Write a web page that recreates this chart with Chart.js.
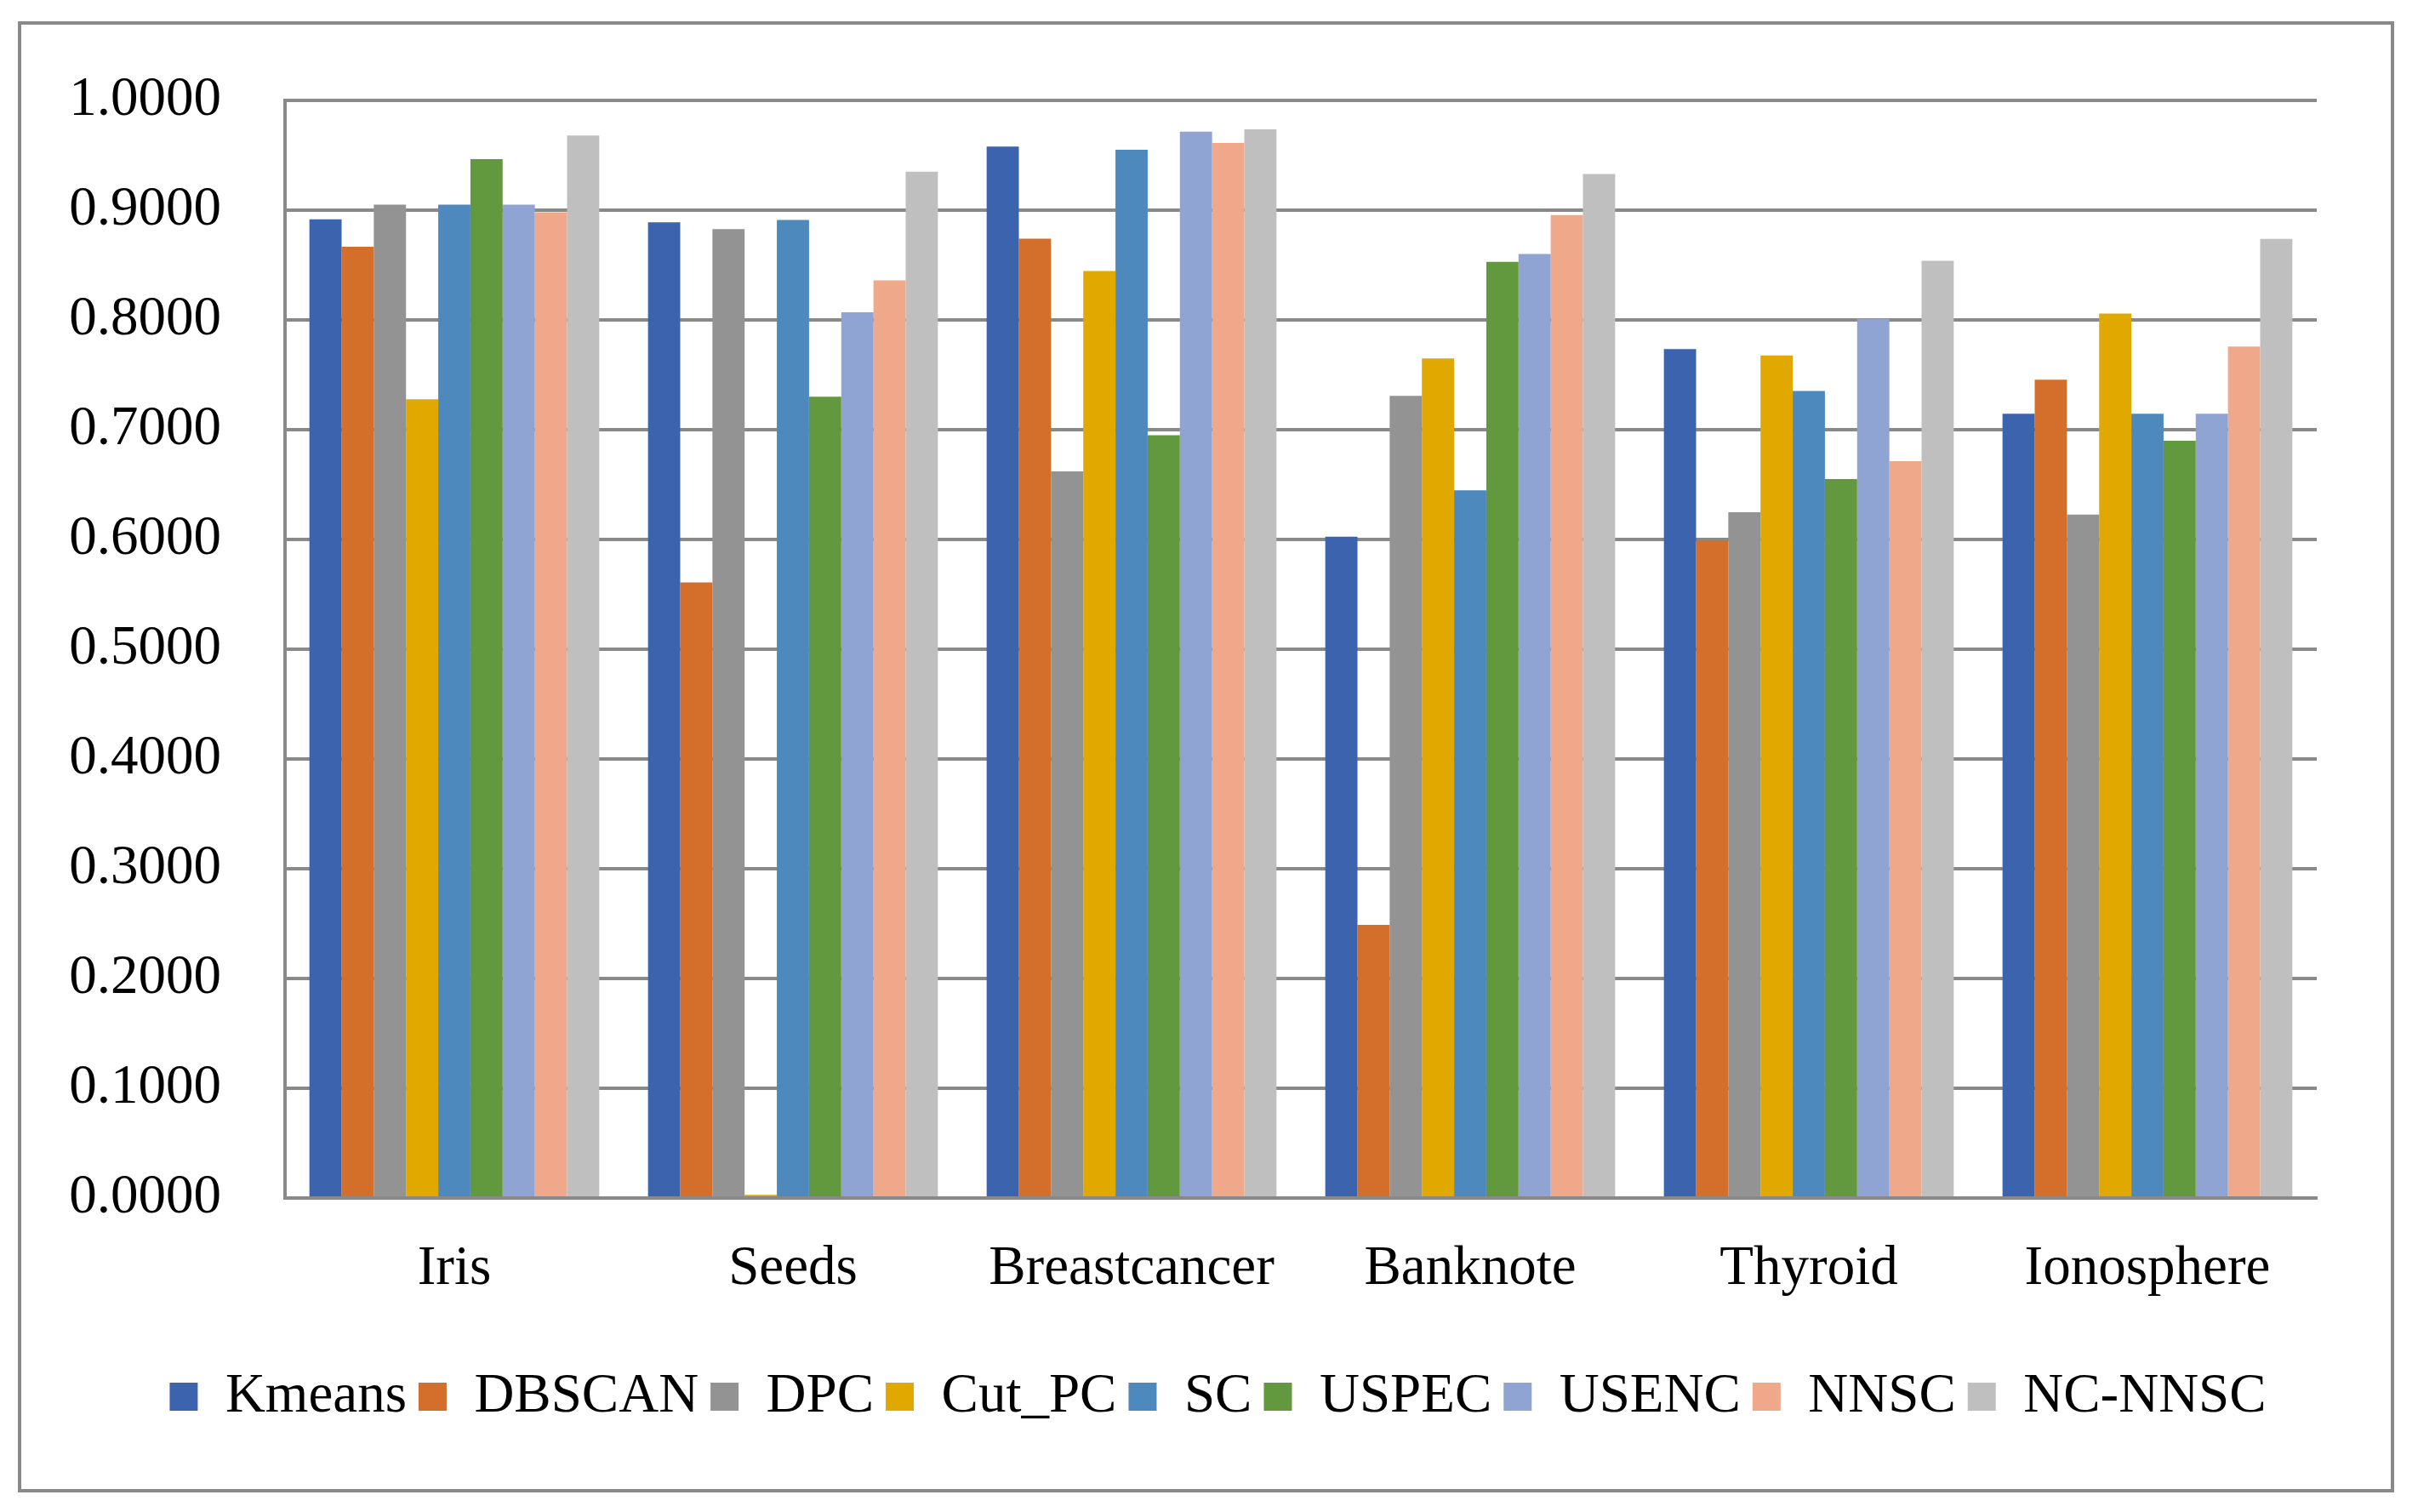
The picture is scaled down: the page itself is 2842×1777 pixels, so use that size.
<!DOCTYPE html>
<html>
<head>
<meta charset="utf-8">
<script src="https://cdn.jsdelivr.net/npm/chart.js@4"></script>
<style>
  html, body { margin: 0; padding: 0; background: #fff; }
  #wrap { width: 2842px; height: 1777px; }
</style>
</head>
<body>
<div id="wrap"><canvas id="scoreChart"></canvas></div>
<script>
// datasets (x axis) and methods (series)
const categories = ['Iris', 'Seeds', 'Breastcancer', 'Banknote', 'Thyroid', 'Ionosphere'];
const methods = ['Kmeans', 'DBSCAN', 'DPC', 'Cut_PC', 'SC', 'USPEC', 'USENC', 'NNSC', 'NC-NNSC'];
const colors = ['#3C64AE', '#D36E2B', '#939393', '#E1A900', '#4E89BD', '#62993E', '#90A4D4', '#F0A88A', '#BFBFBF'];

// one array per method
const kmeans = [0.8916, 0.8890, 0.9580, 0.6026, 0.7735, 0.7145];
const dbscan = [0.8667, 0.5608, 0.8740, 0.2488, 0.5990, 0.7455];
const dpc    = [0.9050, 0.8827, 0.6620, 0.7309, 0.6248, 0.6226];
const cutPc  = [0.7278, 0.0030, 0.8445, 0.7650, 0.7677, 0.8059];
const sc     = [0.9050, 0.8910, 0.9550, 0.6448, 0.7353, 0.7145];
const uspec  = [0.9466, 0.7300, 0.6950, 0.8530, 0.6550, 0.6900];
const usenc  = [0.9050, 0.8070, 0.9715, 0.8600, 0.8010, 0.7145];
const nnsc   = [0.8980, 0.8360, 0.9613, 0.8956, 0.6714, 0.7757];
const ncNnsc = [0.9680, 0.9350, 0.9737, 0.9329, 0.8538, 0.8738];
const seriesValues = [kmeans, dbscan, dpc, cutPc, sc, uspec, usenc, nnsc, ncNnsc];

const yTicks = [0, 0.1, 0.2, 0.3, 0.4, 0.5, 0.6, 0.7, 0.8, 0.9, 1.0];

const lineGrey = '#898989';
const fontFamily = '"Liberation Serif", "Times New Roman", serif';

// outer frame round the whole picture
const framePlugin = {
    id: 'frame',
    beforeDraw(chart) {
        const c = chart.ctx;
        c.save();
        c.fillStyle = '#fff';
        c.fillRect(0, 0, chart.width, chart.height);
        c.strokeStyle = lineGrey;
        c.lineWidth = 4;
        c.strokeRect(23, 27, 2789, 1725);
        c.restore();
    },
    // the legend is centred on the whole frame, not on the plot
    afterLayout(chart) {
        if (chart.legend) {
            chart.legend.left += 70;
            chart.legend.right += 70;
        }
    }
};

const ctx = document.getElementById('scoreChart').getContext('2d');
const scoreChart = new Chart(ctx, {
    type: 'bar',
    data: {
        labels: categories,
        datasets: methods.map((m, i) => ({
            label: m,
            data: seriesValues[i],
            backgroundColor: colors[i],
            borderWidth: 0,
            categoryPercentage: 0.856,
            barPercentage: 1.0
        }))
    },
    options: {
        responsive: true,
        maintainAspectRatio: false,
        animation: false,
        devicePixelRatio: 1,
        layout: {
            padding: { left: 0, right: 119, top: 118, bottom: 93 }
        },
        plugins: {
            legend: {
                position: 'bottom',
                labels: {
                    boxWidth: 33,
                    boxHeight: 33,
                    padding: 14,
                    color: '#000',
                    font: { family: fontFamily, size: 65 }
                }
            },
            tooltip: { enabled: false }
        },
        scales: {
            x: {
                grid: { display: false, drawTicks: false },
                border: { display: true, color: lineGrey, width: 4 },
                ticks: {
                    color: '#000',
                    padding: 45,
                    font: { family: fontFamily, size: 65 }
                },
                afterFit(scale) { scale.height = 187; }
            },
            y: {
                min: 0,
                max: 1,
                afterBuildTicks(scale) { scale.ticks = yTicks.map(v => ({ value: v })); },
                grid: { color: lineGrey, lineWidth: 4, drawTicks: false },
                border: { display: true, color: lineGrey, width: 4 },
                ticks: {
                    color: '#000',
                    padding: 75,
                    font: { family: fontFamily, size: 65 },
                    callback: v => Number(v).toFixed(4)
                },
                afterFit(scale) { scale.width = 335; }
            }
        }
    },
    plugins: [framePlugin]
});
</script>
</body>
</html>
